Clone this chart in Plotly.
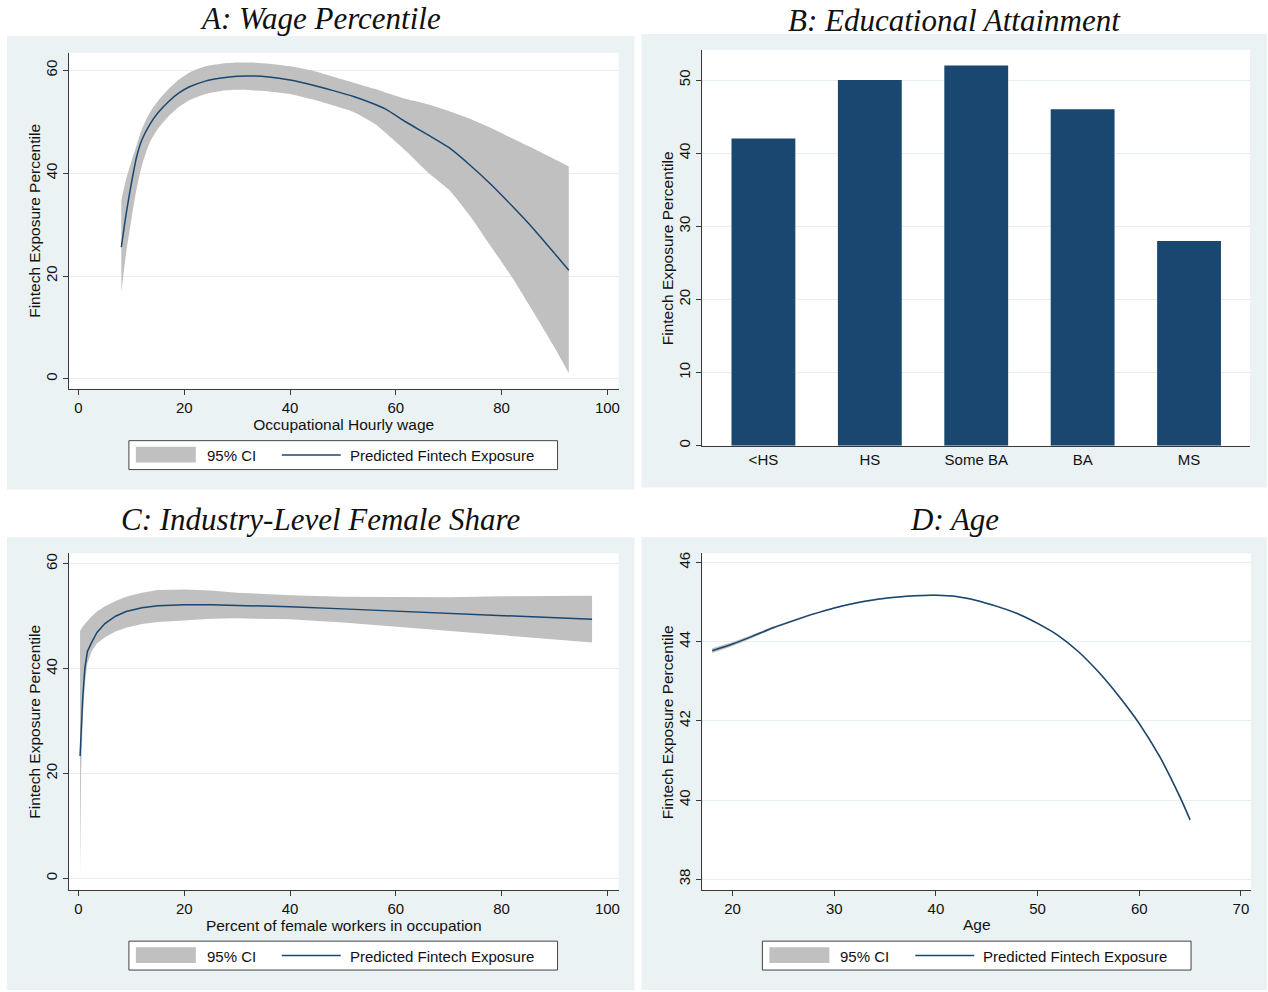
import plotly.graph_objects as go

W, H = 1268, 992

# ---------------- Data ----------------
# Panel A: wage percentile
wage_x = [8.1, 9, 10, 11, 12, 13.5, 15, 17, 19, 21, 24, 27, 30, 33, 36, 40, 44, 48,
          52, 56, 58, 62, 66, 70, 74, 78, 82, 86, 90, 92.7]
wage_pred = [25.6, 32.0, 38.0, 43.2, 46.5, 49.5, 51.7, 53.9, 55.6, 56.8, 57.9, 58.5, 58.85,
             58.9, 58.7, 58.1, 57.2, 56.1, 54.9, 53.4, 52.5, 49.9, 47.5, 45.0, 41.6, 37.8,
             33.6, 29.2, 24.4, 21.1]
wage_hi = [34.7, 38.8, 42.2, 45.5, 48.6, 51.8, 54.0, 56.3, 58.2, 59.6, 60.8, 61.3, 61.5,
           61.5, 61.3, 60.8, 60.0, 58.8, 57.6, 56.4, 55.7, 54.4, 53.4, 52.1, 50.6, 48.8,
           46.8, 44.8, 42.7, 41.3]
wage_lo = [16.9, 24.4, 31.0, 37.0, 41.5, 46.0, 48.6, 51.0, 52.9, 54.2, 55.4, 56.0, 56.2,
           56.1, 55.9, 55.4, 54.4, 53.2, 51.9, 49.6, 47.9, 44.2, 40.2, 36.8, 31.7, 25.7,
           19.7, 13.0, 6.1, 1.1]

# Panel B: educational attainment
edu_cats = ["<HS", "HS", "Some BA", "BA", "MS"]
edu_vals = [42, 50, 52, 46, 28]

# Panel C: industry-level female share
fem_x = [0.3, 0.5, 0.8, 1.2, 1.7, 2.5, 3.5, 5, 7, 9, 12, 15, 20, 25, 30, 40, 50, 60,
         70, 80, 90, 97.1]
fem_pred = [23.3, 29.0, 34.2, 40.0, 43.3, 45.0, 46.9, 48.6, 50.0, 50.9, 51.6, 52.0, 52.2,
            52.2, 52.1, 51.8, 51.4, 51.0, 50.6, 50.1, 49.7, 49.4]
fem_hi = [47.2, 47.6, 48.0, 48.5, 49.1, 50.0, 50.9, 51.9, 52.9, 53.7, 54.5, 55.0, 55.1,
          54.9, 54.5, 54.0, 53.7, 53.6, 53.6, 53.8, 53.9, 53.9]
fem_lo = [0.3, 20.0, 30.0, 37.0, 41.0, 43.3, 44.8, 46.0, 47.1, 47.8, 48.5, 48.9, 49.2,
          49.5, 49.6, 49.4, 48.8, 48.0, 47.2, 46.3, 45.5, 45.0]

# Panel D: age
age_x = [18, 20, 22, 24, 26, 28, 30, 32, 34, 36, 38, 40, 42, 44, 46, 48, 50, 52, 54, 56,
         58, 60, 62, 64, 65]
age_pred = [43.77, 43.94, 44.14, 44.35, 44.53, 44.70, 44.85, 44.97, 45.06, 45.12, 45.16,
            45.17, 45.14, 45.04, 44.89, 44.71, 44.46, 44.16, 43.75, 43.23, 42.62, 41.93,
            41.10, 40.08, 39.50]
age_hi = [43.83, 43.99, 44.18, 44.38, 44.56, 44.72, 44.87, 44.99, 45.08, 45.14, 45.18,
          45.19, 45.16, 45.06, 44.91, 44.73, 44.48, 44.18, 43.77, 43.25, 42.65, 41.97,
          41.14, 40.13, 39.56]
age_lo = [43.71, 43.89, 44.10, 44.32, 44.50, 44.68, 44.83, 44.95, 45.04, 45.10, 45.14,
          45.15, 45.12, 45.02, 44.87, 44.69, 44.44, 44.14, 43.73, 43.21, 42.59, 41.89,
          41.06, 40.03, 39.44]

titles = ["A: Wage Percentile", "B: Educational Attainment",
          "C: Industry-Level Female Share", "D: Age"]
y_title = "Fintech Exposure Percentile"
x_titles = ["Occupational Hourly wage", "", "Percent of female workers in occupation", "Age"]
legend_labels = ["95% CI", "Predicted Fintech Exposure"]

# ---------------- Styles ----------------
NAVY = "#1A476F"
CI_GRAY = "#C0C0C0"
BG = "#EAF2F3"
GRID = "#E6EEF0"
AXIS = "#3a3a3a"
TXT = "#111111"
SANS = "Liberation Sans, Arial, sans-serif"
SERIF = "Liberation Serif, Times New Roman, serif"


def fx(p):
    return p / W


def fy(p):
    return 1 - p / H


fig = go.Figure()


def add_band(x, lo, hi, pred, xa, ya, shape):
    fig.add_trace(go.Scatter(x=x, y=lo, mode="lines",
                             line=dict(width=0, color=CI_GRAY, shape=shape, smoothing=0.6),
                             xaxis=xa, yaxis=ya, showlegend=False, hoverinfo="skip"))
    fig.add_trace(go.Scatter(x=x, y=hi, mode="lines",
                             line=dict(width=0, color=CI_GRAY, shape=shape, smoothing=0.6),
                             fill="tonexty", fillcolor=CI_GRAY, xaxis=xa, yaxis=ya,
                             name=legend_labels[0], showlegend=False))
    fig.add_trace(go.Scatter(x=x, y=pred, mode="lines",
                             line=dict(width=1.5, color=NAVY, shape=shape, smoothing=0.6),
                             xaxis=xa, yaxis=ya, name=legend_labels[1], showlegend=False))


add_band(wage_x, wage_lo, wage_hi, wage_pred, "x", "y", "spline")
fig.add_trace(go.Bar(x=edu_cats, y=edu_vals, marker=dict(color=NAVY, line=dict(width=0)),
                     xaxis="x2", yaxis="y2", showlegend=False))
add_band(fem_x, fem_lo, fem_hi, fem_pred, "x3", "y3", "linear")
add_band(age_x, age_lo, age_hi, age_pred, "x4", "y4", "spline")

# panel geometry in pixels: (bg box), (plot box)
panels = [
    dict(bg=(7, 35, 635, 490), plot=(69, 52, 619, 389), title=(321, 18), ytx=35),
    dict(bg=(642, 33, 1268, 488), plot=(703, 49, 1251, 446), title=(955, 20), ytx=668),
    dict(bg=(7, 538, 635, 992), plot=(69, 554, 619, 892), title=(321, 520), ytx=35),
    dict(bg=(642, 538, 1268, 992), plot=(703, 554, 1252, 892), title=(955, 520), ytx=668),
]

shapes = []
for p in panels:
    x0, y0, x1, y1 = p["bg"]
    shapes.append(dict(type="rect", xref="paper", yref="paper", x0=fx(x0), x1=fx(x1),
                       y0=fy(y1), y1=fy(y0), fillcolor=BG, line=dict(width=0), layer="below"))
for p in panels:
    x0, y0, x1, y1 = p["plot"]
    shapes.append(dict(type="rect", xref="paper", yref="paper", x0=fx(x0), x1=fx(x1),
                       y0=fy(y1), y1=fy(y0), fillcolor="white", line=dict(width=0),
                       layer="below"))

annotations = []
for p, t in zip(panels, titles):
    cx, cy = p["title"]
    annotations.append(dict(text="<i>" + t + "</i>", x=fx(cx), y=fy(cy), xref="paper",
                            yref="paper", xanchor="center", yanchor="middle", showarrow=False,
                            font=dict(family=SERIF, size=31, color=TXT)))
# y-axis titles
for p in panels:
    x0, y0, x1, y1 = p["plot"]
    annotations.append(dict(text=y_title, x=fx(p["ytx"]), y=fy((y0 + y1) / 2), xref="paper",
                            yref="paper", xanchor="center", yanchor="middle", textangle=-90,
                            showarrow=False, font=dict(family=SANS, size=15.5, color=TXT)))

# manual Stata-like legends (panels A, C, D)
for (lx, ly) in [(129, 441), (129, 943), (763, 943)]:
    shapes.append(dict(type="rect", xref="paper", yref="paper", x0=fx(lx), x1=fx(lx + 429),
                       y0=fy(ly + 29), y1=fy(ly), fillcolor="white",
                       line=dict(width=1, color="#444444"), layer="above"))
    shapes.append(dict(type="rect", xref="paper", yref="paper", x0=fx(lx + 7), x1=fx(lx + 67),
                       y0=fy(ly + 22), y1=fy(ly + 6), fillcolor=CI_GRAY, line=dict(width=0),
                       layer="above"))
    shapes.append(dict(type="line", xref="paper", yref="paper", x0=fx(lx + 153),
                       x1=fx(lx + 212), y0=fy(ly + 14.5), y1=fy(ly + 14.5),
                       line=dict(width=1.5, color=NAVY), layer="above"))
    annotations.append(dict(text=legend_labels[0], x=fx(lx + 76), y=fy(ly + 15), xref="paper",
                            yref="paper", xanchor="left", yanchor="middle", showarrow=False,
                            font=dict(family=SANS, size=15, color=TXT)))
    annotations.append(dict(text=legend_labels[1], x=fx(lx + 219), y=fy(ly + 15),
                            xref="paper", yref="paper", xanchor="left", yanchor="middle",
                            showarrow=False, font=dict(family=SANS, size=15, color=TXT)))

tickfont = dict(family=SANS, size=15, color=TXT)
titlefont = dict(family=SANS, size=15.5, color=TXT)


def xaxis_cfg(p, rng, title, **kw):
    x0, y0, x1, y1 = p["plot"]
    d = dict(domain=[fx(x0), fx(x1)], range=rng, showgrid=False, zeroline=False,
             showline=True, linecolor=AXIS, linewidth=1, ticks="outside", ticklen=5,
             tickcolor=AXIS, tickwidth=1, tickfont=tickfont,
             title=dict(text=title, font=titlefont, standoff=2))
    d.update(kw)
    return d


def yaxis_cfg(p, rng, **kw):
    x0, y0, x1, y1 = p["plot"]
    d = dict(domain=[fy(y1), fy(y0)], range=rng, showgrid=True, gridcolor=GRID, gridwidth=1,
             zeroline=False, showline=True, linecolor=AXIS, linewidth=1, ticks="outside",
             ticklen=5, tickcolor=AXIS, tickwidth=1, tickfont=tickfont, tickangle=-90)
    d.update(kw)
    return d


fig.update_layout(
    width=W, height=H, margin=dict(l=0, r=0, t=0, b=0),
    paper_bgcolor="white", plot_bgcolor="white",
    showlegend=False, bargap=0.4,
    shapes=shapes, annotations=annotations,
    xaxis=xaxis_cfg(panels[0], [-1.8, 102.1], x_titles[0], anchor="y",
                    tickvals=[0, 20, 40, 60, 80, 100]),
    yaxis=yaxis_cfg(panels[0], [-1.94, 63.4], anchor="x", tickvals=[0, 20, 40, 60]),
    xaxis2=xaxis_cfg(panels[1], [-0.573, 4.573], "", anchor="y2", type="category",
                     ticks=""),
    yaxis2=yaxis_cfg(panels[1], [0, 54.13], anchor="x2",
                     tickvals=[0, 10, 20, 30, 40, 50]),
    xaxis3=xaxis_cfg(panels[2], [-1.8, 102.1], x_titles[2], anchor="y3",
                     tickvals=[0, 20, 40, 60, 80, 100]),
    yaxis3=yaxis_cfg(panels[2], [-2.3, 62.0], anchor="x3", tickvals=[0, 20, 40, 60]),
    xaxis4=xaxis_cfg(panels[3], [17.04, 70.99], x_titles[3], anchor="y4",
                     tickvals=[20, 30, 40, 50, 60, 70]),
    yaxis4=yaxis_cfg(panels[3], [37.72, 46.23], anchor="x4",
                     tickvals=[38, 40, 42, 44, 46]),
)

fig.write_html("out.html", config={"displayModeBar": False},
               post_script="document.body.style.margin='0px';")
